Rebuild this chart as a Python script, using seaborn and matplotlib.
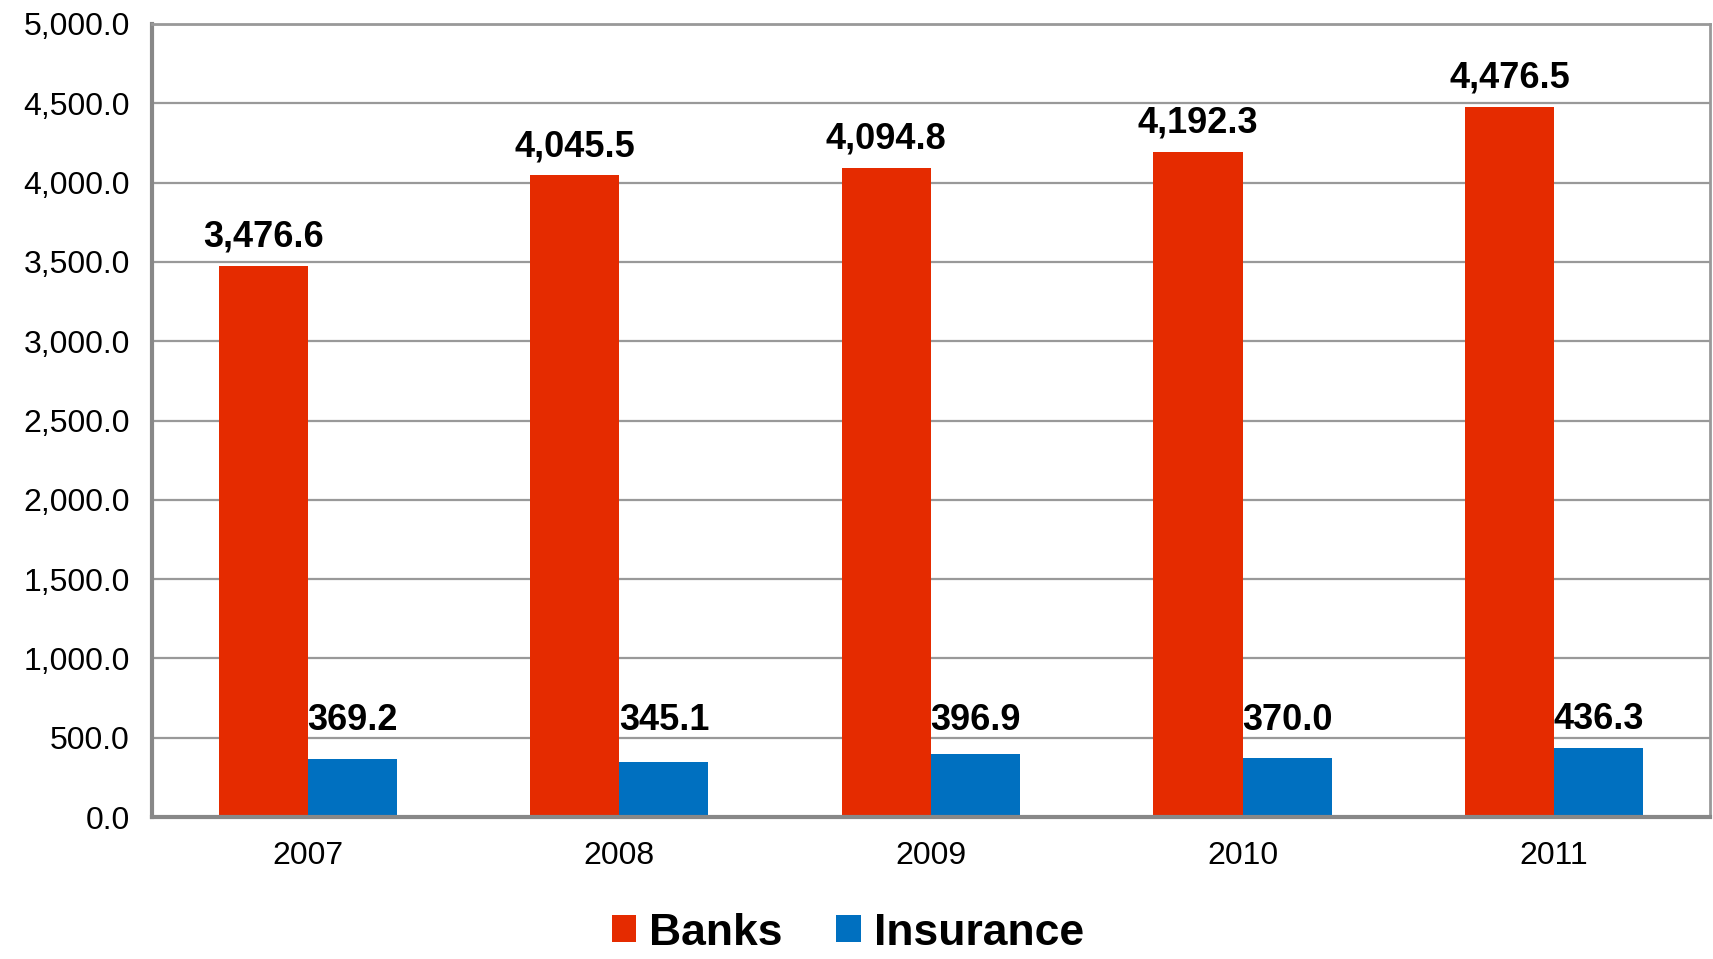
import numpy as np
import pandas as pd
import matplotlib
matplotlib.use("Agg")
import matplotlib.pyplot as plt
import seaborn as sns
from matplotlib.patches import Patch
from matplotlib.ticker import FuncFormatter

# data
years = ["2007", "2008", "2009", "2010", "2011"]
banks = [3476.6, 4045.5, 4094.8, 4192.3, 4476.5]
insurance = [369.2, 345.1, 396.9, 370.0, 436.3]
series = ["Banks", "Insurance"]
colors = ["#E52B00", "#0070C0"]

df = pd.DataFrame({
    "Year": years * 2,
    "Value": banks + insurance,
    "Series": ["Banks"] * len(years) + ["Insurance"] * len(years),
})

sns.set_style("white")
plt.rcParams["font.family"] = ["Liberation Sans", "DejaVu Sans"]
plt.rcParams["text.color"] = "black"
plt.rcParams["xtick.color"] = "black"
plt.rcParams["ytick.color"] = "black"

fig = plt.figure(figsize=(17.13, 9.59), dpi=100)
ax = fig.add_axes([0.0887, 0.148, 0.9095, 0.827])

sns.barplot(data=df, x="Year", y="Value", hue="Series", palette=colors,
            width=0.572, dodge=True, saturation=1, ax=ax, legend=False,
            edgecolor="none", errorbar=None)

ax.set_xlim(-0.5, len(years) - 0.5)
ax.set_ylim(0, 5000)
ax.set_yticks(np.arange(0, 5001, 500))
ax.yaxis.set_major_formatter(FuncFormatter(lambda v, p: f"{v:,.1f}"))
ax.grid(axis="y", color="#999999", linewidth=1.6)
ax.set_axisbelow(True)
ax.set_xlabel("")
ax.set_ylabel("")

for side in ["left", "bottom"]:
    ax.spines[side].set_color("#888888")
    ax.spines[side].set_linewidth(3)
for side in ["top", "right"]:
    ax.spines[side].set_visible(True)
    ax.spines[side].set_color("#999999")
    ax.spines[side].set_linewidth(2)

ax.tick_params(axis="y", which="major", direction="out", length=10, width=2,
               color="#888888", labelcolor="black", labelsize=23, pad=6)
ax.tick_params(axis="x", which="major", length=0, labelsize=23,
               labelcolor="black", pad=17)
ax.set_xticks(np.arange(-0.5, len(years)), minor=True)
ax.tick_params(axis="x", which="minor", direction="out", length=10, width=2,
               color="#888888")

# value labels
offs = [-0.143, 0.143]
for j, vals in enumerate([banks, insurance]):
    for i, v in enumerate(vals):
        ypos = v if j == 0 else max(v, 430)
        ax.annotate(f"{v:,.1f}", (i + offs[j], ypos), xytext=(0, 8),
                    textcoords="offset points", ha="center", va="bottom",
                    fontsize=26, fontweight="bold", color="black")

handles = [Patch(facecolor=c, edgecolor="none") for c in colors]
leg = fig.legend(handles, series, loc="center", bbox_to_anchor=(0.495, 0.027),
                 ncol=2, frameon=False, handlelength=0.55, handleheight=0.55,
                 handletextpad=0.3, columnspacing=1.2,
                 prop={"size": 32, "weight": "bold"})
for t in leg.get_texts():
    t.set_color("black")

fig.savefig("out.png", dpi=100)
